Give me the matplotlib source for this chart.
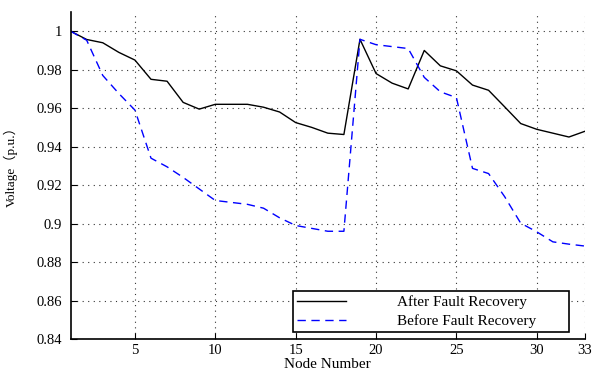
import matplotlib
matplotlib.use("Agg")
import matplotlib.pyplot as plt
import numpy as np

nodes = list(range(1, 34))
after = [1.000, 0.9957, 0.994, 0.989, 0.985, 0.975, 0.974, 0.963, 0.9595, 0.962,
         0.962, 0.962, 0.9605, 0.958, 0.9525, 0.950, 0.947, 0.9463, 0.9958, 0.978,
         0.973, 0.970, 0.990, 0.982, 0.9794, 0.972, 0.9693, 0.9607, 0.952, 0.949,
         0.947, 0.945, 0.948]
before = [1.000, 0.9953, 0.977, 0.9676, 0.959, 0.934, 0.9295, 0.924, 0.918, 0.912,
          0.911, 0.910, 0.908, 0.903, 0.899, 0.8975, 0.896, 0.896, 0.9958, 0.993,
          0.992, 0.991, 0.976, 0.9685, 0.9655, 0.9287, 0.926, 0.914, 0.9002, 0.8957,
          0.8905, 0.8893, 0.8883]
xticks = [5, 10, 15, 20, 25, 30, 33]
yticks = [0.84, 0.86, 0.88, 0.9, 0.92, 0.94, 0.96, 0.98, 1.0]
labels = ["After Fault Recovery", "Before Fault Recovery"]

plt.rcParams['font.family'] = ['Liberation Serif', 'Noto Sans CJK SC']
fig = plt.figure(figsize=(5.92, 3.71), dpi=100)
ax = fig.add_axes([0.1193, 0.0863, 0.8689, 0.8814])

ax.plot(nodes, after, color='black', lw=1.0, label=labels[0])
ax.plot(nodes, before, color='blue', lw=1.0, ls=(0, (6, 4)), label=labels[1])

ax.set_xlim(1, 33)
ax.set_ylim(0.84, 1.01)
ax.set_xticks(xticks)
ax.set_yticks(yticks)
ax.set_yticklabels(["%g" % v for v in yticks])
ax.tick_params(direction='in', labelsize=10.5, length=4, width=0.8)
ax.tick_params(axis='y', pad=6)
ax.grid(True, color='black', ls=(0, (1, 4)), lw=0.8, alpha=0.8)
for s in ['top', 'right']:
    ax.spines[s].set_visible(False)
for s in ['left', 'bottom']:
    ax.spines[s].set_linewidth(1.2)

ax.set_xlabel("Node Number", fontsize=11, labelpad=0.5)
ax.set_ylabel("Voltage（p.u.）", fontsize=9.5)
ax.yaxis.set_label_coords(-0.102, 0.535)

leg = ax.legend(loc='lower left', bbox_to_anchor=(0.4323, 0.0214, 0.5366, 0.12),
                mode='expand', borderaxespad=0, fontsize=11,
                frameon=True, fancybox=False, edgecolor='black', framealpha=1,
                handlelength=3.2, handletextpad=3.35, borderpad=0.25, labelspacing=0.35)
leg.get_frame().set_linewidth(1.2)

fig.savefig("out.png", dpi=100)
